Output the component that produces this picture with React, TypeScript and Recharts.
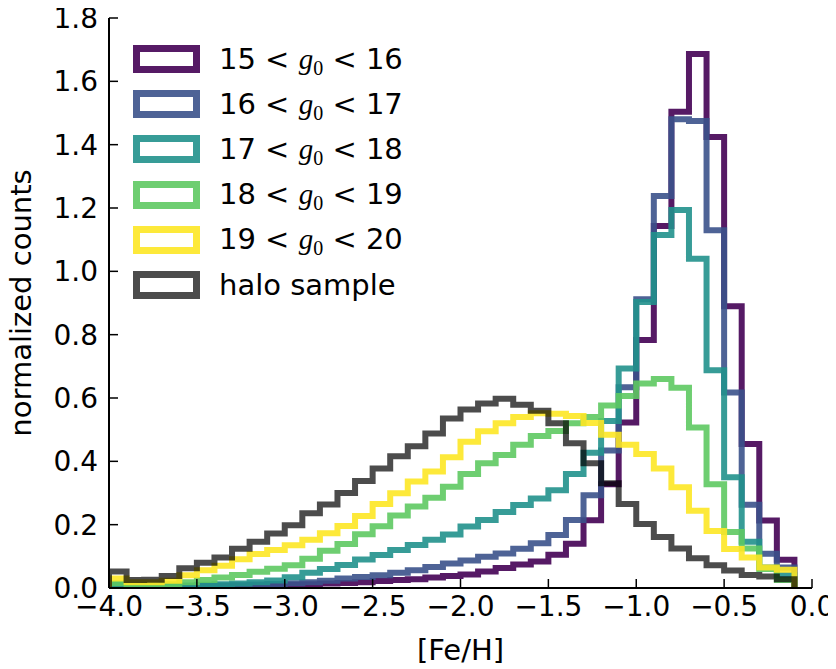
import { LineChart, Line, XAxis, YAxis } from 'recharts';

// bin edges of the [Fe/H] histograms (0.1 dex bins)
const binEdges = [
  -4.0, -3.9, -3.8, -3.7, -3.6, -3.5, -3.4, -3.3, -3.2, -3.1,
  -3.0, -2.9, -2.8, -2.7, -2.6, -2.5, -2.4, -2.3, -2.2, -2.1,
  -2.0, -1.9, -1.8, -1.7, -1.6, -1.5, -1.4, -1.3, -1.2, -1.1,
  -1.0, -0.9, -0.8, -0.7, -0.6, -0.5, -0.4, -0.3, -0.2, -0.1,
];

const xTicks = [-4, -3.5, -3, -2.5, -2, -1.5, -1, -0.5, 0];
const yTicks = [0, 0.2, 0.4, 0.6, 0.8, 1.0, 1.2, 1.4, 1.6, 1.8];

// normalized counts per bin, one value per bin (39 bins)
const g15to16 = [
  0.006, 0.003, 0.003, 0.004, 0.004, 0.005, 0.006, 0.007, 0.008, 0.009,
  0.010, 0.012, 0.014, 0.016, 0.018, 0.022, 0.025, 0.028, 0.033, 0.038,
  0.043, 0.052, 0.063, 0.074, 0.084, 0.105, 0.140, 0.214, 0.328, 0.523,
  0.783, 1.143, 1.504, 1.686, 1.424, 0.890, 0.455, 0.213, 0.089,
];
const g16to17 = [
  0.008, 0.004, 0.004, 0.005, 0.006, 0.007, 0.008, 0.009, 0.011, 0.013,
  0.015, 0.018, 0.023, 0.030, 0.035, 0.040, 0.048, 0.056, 0.066, 0.077,
  0.087, 0.099, 0.109, 0.124, 0.141, 0.167, 0.215, 0.293, 0.434, 0.634,
  0.912, 1.238, 1.480, 1.475, 1.130, 0.617, 0.263, 0.108, 0.065,
];
const g17to18 = [
  0.012, 0.004, 0.005, 0.006, 0.008, 0.010, 0.012, 0.014, 0.018, 0.024,
  0.034, 0.048, 0.060, 0.073, 0.090, 0.104, 0.120, 0.136, 0.152, 0.169,
  0.194, 0.215, 0.240, 0.262, 0.283, 0.309, 0.360, 0.427, 0.527, 0.693,
  0.903, 1.115, 1.194, 1.040, 0.688, 0.350, 0.146, 0.065, 0.040,
];
const g18to19 = [
  0.015, 0.006, 0.008, 0.012, 0.018, 0.025, 0.033, 0.041, 0.051, 0.061,
  0.072, 0.092, 0.118, 0.139, 0.170, 0.195, 0.229, 0.257, 0.285, 0.320,
  0.360, 0.394, 0.420, 0.452, 0.480, 0.496, 0.520, 0.540, 0.576, 0.606,
  0.646, 0.660, 0.632, 0.507, 0.328, 0.177, 0.125, 0.060, 0.025,
];
const g19to20 = [
  0.030, 0.018, 0.018, 0.023, 0.040, 0.056, 0.070, 0.091, 0.107, 0.120,
  0.135, 0.152, 0.173, 0.196, 0.227, 0.265, 0.299, 0.336, 0.368, 0.413,
  0.462, 0.495, 0.520, 0.540, 0.552, 0.550, 0.543, 0.521, 0.484, 0.452,
  0.423, 0.377, 0.318, 0.244, 0.180, 0.123, 0.096, 0.065, 0.058,
];
const haloSample = [
  0.052, 0.025, 0.026, 0.038, 0.062, 0.080, 0.096, 0.124, 0.146, 0.172,
  0.198, 0.236, 0.264, 0.300, 0.338, 0.377, 0.416, 0.448, 0.488, 0.535,
  0.564, 0.583, 0.598, 0.579, 0.560, 0.520, 0.457, 0.394, 0.331, 0.265,
  0.202, 0.161, 0.125, 0.094, 0.072, 0.055, 0.041, 0.036, 0.028,
];

const series = [
  { key: 'g15', lo: '15', hi: '16', color: '#440154', opacity: 0.9, values: g15to16 },
  { key: 'g16', lo: '16', hi: '17', color: '#3b528b', opacity: 0.9, values: g16to17 },
  { key: 'g17', lo: '17', hi: '18', color: '#21918c', opacity: 0.9, values: g17to18 },
  { key: 'g18', lo: '18', hi: '19', color: '#5ec962', opacity: 0.9, values: g18to19 },
  { key: 'g19', lo: '19', hi: '20', color: '#fde725', opacity: 0.9, values: g19to20 },
  { key: 'halo', label: 'halo sample', color: '#000000', opacity: 0.7, values: haloSample },
];

// outline of a matplotlib 'step' histogram: up from 0 at the first edge, down to 0 at the last
function stepPoints(values: number[]) {
  const n = values.length;
  const pts = [{ x: binEdges[0], y: 0 }];
  values.forEach((v, i) => pts.push({ x: binEdges[i], y: v }));
  pts.push({ x: binEdges[n], y: values[n - 1] });
  pts.push({ x: binEdges[n], y: 0 });
  return pts;
}

const fmtX = (v: number) => v.toFixed(1).replace('-', '\u2212');
const fmtY = (v: number) => v.toFixed(1);
const blank = () => '';

const axisLine = { stroke: '#000', strokeWidth: 2 };
const tickLine = { stroke: '#000', strokeWidth: 1.5 };
const tickFont = { fontSize: 28, fill: '#000' };

function LegendBox() {
  return (
    <div style={{ position: 'absolute', left: 125, top: 28.5, fontSize: 29, color: '#000' }}>
      {series.map(s => (
        <div key={s.key} style={{ display: 'flex', alignItems: 'center', height: 45.2 }}>
          <svg width={67} height={28}>
            <rect x={3.5} y={3.5} width={60} height={21} fill="none"
              stroke={s.color} strokeOpacity={s.opacity} strokeWidth={7} />
          </svg>
          <span style={{ marginLeft: 19, lineHeight: 1, whiteSpace: 'nowrap' }}>
            {s.label ? s.label : (
              <>
                {s.lo} &lt;{' '}
                <span style={{ fontFamily: '"Liberation Serif"', fontStyle: 'italic' }}>g</span>
                <span style={{ fontFamily: '"Liberation Serif"', fontSize: 20, position: 'relative', top: 6 }}>0</span>
                {' '}&lt; {s.hi}
              </>
            )}
          </span>
        </div>
      ))}
    </div>
  );
}

export default function App() {
  return (
    <div style={{ position: 'relative', width: 828, height: 661, fontFamily: '"DejaVu Sans"' }}>
      <LineChart width={828} height={661} margin={{ top: 10, right: 24, left: 11, bottom: 0 }}>
        <XAxis xAxisId="b" type="number" dataKey="x" domain={[-4, 0]} ticks={xTicks} interval={0}
          tickFormatter={fmtX} tickSize={-9} tickMargin={17} height={81}
          tick={tickFont} axisLine={axisLine} tickLine={tickLine} allowDataOverflow
          label={{ value: '[Fe/H]', position: 'insideBottom', offset: 9, fontSize: 29, fill: '#000' }} />
        <XAxis xAxisId="t" orientation="top" type="number" dataKey="x" domain={[-4, 0]} ticks={xTicks}
          interval={0} tickFormatter={blank} tickSize={-9} height={0}
          axisLine={axisLine} tickLine={tickLine} allowDataOverflow />
        <YAxis yAxisId="l" type="number" domain={[0, 1.8]} ticks={yTicks} interval={0}
          tickFormatter={fmtY} tickSize={-9} tickMargin={20} width={90}
          tick={tickFont} axisLine={axisLine} tickLine={tickLine} allowDataOverflow
          label={{ value: 'normalized counts', angle: -90, position: 'insideLeft', offset: 2,
            fontSize: 29, fill: '#000', style: { textAnchor: 'middle' } }} />
        <YAxis yAxisId="r" orientation="right" type="number" domain={[0, 1.8]} ticks={yTicks}
          interval={0} tickFormatter={blank} tickSize={-9} width={0}
          axisLine={axisLine} tickLine={tickLine} allowDataOverflow />
        {series.map(s => (
          <Line key={s.key} xAxisId="b" yAxisId="l" data={stepPoints(s.values)} dataKey="y"
            type="stepAfter" stroke={s.color} strokeOpacity={s.opacity} strokeWidth={6}
            strokeLinejoin="miter" strokeLinecap="butt" dot={false} activeDot={false}
            isAnimationActive={false} />
        ))}
      </LineChart>
      <LegendBox />
    </div>
  );
}
